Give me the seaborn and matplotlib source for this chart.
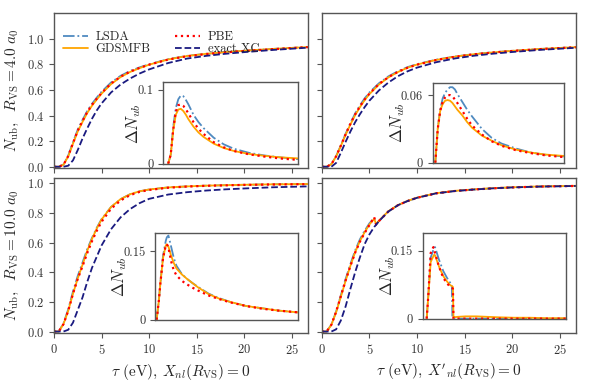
import matplotlib
matplotlib.use("Agg")
from matplotlib import pyplot as plt
import seaborn as sns
import numpy as np
import pandas as pd

# ---- main panels: N_ub vs tau ----
tau = [0, 0.5, 1.0, 1.5, 2.0, 2.5, 3.0, 3.5, 4.0, 4.5, 5.0, 6, 7, 8, 9, 10, 12, 14, 16, 18, 20, 23, 26.7]

# R_VS = 4.0 a0, X_nl = 0
a_lsda = [0, 0, 0.018, 0.088, 0.19, 0.29, 0.365, 0.435, 0.492, 0.54, 0.585, 0.658, 0.71, 0.748, 0.776, 0.8, 0.84, 0.866, 0.882, 0.895, 0.906, 0.92, 0.935]
a_gds = [0, 0, 0.015, 0.08, 0.18, 0.275, 0.35, 0.42, 0.477, 0.525, 0.57, 0.645, 0.70, 0.74, 0.77, 0.797, 0.838, 0.865, 0.882, 0.895, 0.906, 0.92, 0.935]
a_pbe = [0, 0, 0.016, 0.084, 0.185, 0.282, 0.357, 0.427, 0.484, 0.532, 0.576, 0.65, 0.704, 0.743, 0.772, 0.797, 0.837, 0.863, 0.88, 0.893, 0.904, 0.918, 0.934]
a_exact = [0, 0, 0, 0.008, 0.05, 0.13, 0.22, 0.30, 0.375, 0.44, 0.494, 0.58, 0.642, 0.689, 0.728, 0.76, 0.81, 0.845, 0.866, 0.882, 0.895, 0.912, 0.93]

# R_VS = 4.0 a0, X'_nl = 0
b_lsda = [0, 0, 0.021, 0.083, 0.168, 0.258, 0.34, 0.416, 0.479, 0.534, 0.58, 0.652, 0.706, 0.746, 0.778, 0.801, 0.836, 0.861, 0.88, 0.894, 0.905, 0.92, 0.934]
b_gds = [0, 0, 0.02, 0.08, 0.163, 0.25, 0.33, 0.403, 0.465, 0.52, 0.567, 0.642, 0.698, 0.74, 0.773, 0.798, 0.834, 0.86, 0.879, 0.893, 0.905, 0.92, 0.934]
b_pbe = [0, 0, 0.02, 0.082, 0.166, 0.254, 0.335, 0.409, 0.471, 0.526, 0.572, 0.646, 0.70, 0.741, 0.773, 0.797, 0.833, 0.859, 0.878, 0.892, 0.904, 0.919, 0.933]
b_exact = [0, 0, 0, 0.03, 0.11, 0.195, 0.275, 0.348, 0.41, 0.466, 0.516, 0.596, 0.658, 0.707, 0.745, 0.774, 0.816, 0.846, 0.867, 0.883, 0.896, 0.913, 0.929]

# R_VS = 10.0 a0, X_nl = 0
c_lsda = [0, 0, 0.055, 0.15, 0.27, 0.375, 0.465, 0.556, 0.632, 0.70, 0.758, 0.84, 0.893, 0.926, 0.946, 0.958, 0.972, 0.979, 0.984, 0.987, 0.99, 0.993, 0.995]
c_gds = [0, 0, 0.05, 0.14, 0.255, 0.358, 0.45, 0.545, 0.625, 0.695, 0.755, 0.84, 0.893, 0.926, 0.946, 0.958, 0.972, 0.979, 0.984, 0.987, 0.99, 0.993, 0.995]
c_pbe = [0, 0, 0.05, 0.14, 0.255, 0.355, 0.44, 0.53, 0.61, 0.68, 0.74, 0.828, 0.884, 0.92, 0.942, 0.955, 0.97, 0.978, 0.983, 0.986, 0.989, 0.992, 0.994]
c_exact = [0, 0, 0, 0.012, 0.06, 0.145, 0.23, 0.335, 0.43, 0.505, 0.58, 0.69, 0.77, 0.826, 0.866, 0.895, 0.924, 0.94, 0.951, 0.959, 0.965, 0.973, 0.979]

# R_VS = 10.0 a0, X'_nl = 0 (finer grid around the kink)
tau_d = [0, 0.5, 1.0, 1.5, 2.0, 2.5, 3.0, 3.5, 4.0, 4.5, 5.0, 5.5, 5.7, 6, 7, 8, 9, 10, 12, 14, 16, 18, 20, 23, 26.7]
d_lsda = [0, 0, 0.047, 0.135, 0.245, 0.355, 0.455, 0.547, 0.622, 0.68, 0.73, 0.765, 0.72, 0.745, 0.81, 0.852, 0.88, 0.902, 0.932, 0.948, 0.958, 0.966, 0.972, 0.978, 0.982]
d_gds = [0, 0, 0.045, 0.13, 0.235, 0.343, 0.443, 0.535, 0.61, 0.67, 0.722, 0.76, 0.725, 0.748, 0.812, 0.853, 0.881, 0.903, 0.933, 0.949, 0.959, 0.967, 0.973, 0.979, 0.983]
d_pbe = [0, 0, 0.046, 0.134, 0.24, 0.345, 0.442, 0.532, 0.606, 0.665, 0.718, 0.772, 0.722, 0.745, 0.81, 0.852, 0.88, 0.902, 0.932, 0.948, 0.958, 0.966, 0.972, 0.978, 0.982]
d_exact = [0, 0, 0, 0.015, 0.075, 0.17, 0.288, 0.40, 0.50, 0.59, 0.655, 0.705, 0.72, 0.745, 0.81, 0.852, 0.88, 0.902, 0.932, 0.948, 0.958, 0.966, 0.972, 0.978, 0.982]

# ---- insets: Delta N_ub ----
tau_ia = [1.0, 1.5, 2.0, 2.5, 3.0, 3.5, 4.0, 4.5, 5.0, 6, 7, 8, 10, 12, 14, 17, 20, 23, 26.7]
ia_lsda = [0, 0.012, 0.05, 0.075, 0.087, 0.092, 0.091, 0.086, 0.08, 0.066, 0.056, 0.048, 0.035, 0.026, 0.02, 0.0145, 0.011, 0.0085, 0.006]
ia_gds = [0, 0.012, 0.045, 0.066, 0.073, 0.074, 0.071, 0.066, 0.06, 0.05, 0.042, 0.036, 0.027, 0.021, 0.017, 0.013, 0.0105, 0.0085, 0.007]
ia_pbe = [0, 0.012, 0.047, 0.07, 0.079, 0.08, 0.078, 0.073, 0.068, 0.056, 0.047, 0.04, 0.029, 0.022, 0.017, 0.0125, 0.0095, 0.007, 0.005]

tau_ib = [0.5, 1.0, 1.5, 2.0, 2.5, 3.0, 3.5, 4.0, 4.5, 5.0, 6, 7, 8, 10, 12, 14, 17, 20, 23, 26.7]
ib_lsda = [0, 0.03, 0.047, 0.057, 0.062, 0.065, 0.067, 0.067, 0.065, 0.061, 0.054, 0.047, 0.041, 0.03, 0.022, 0.017, 0.0125, 0.009, 0.007, 0.0055]
ib_gds = [0, 0.03, 0.046, 0.052, 0.055, 0.0556, 0.055, 0.053, 0.05, 0.047, 0.042, 0.036, 0.031, 0.024, 0.0195, 0.0155, 0.0115, 0.009, 0.0072, 0.006]
ib_pbe = [0, 0.03, 0.046, 0.054, 0.058, 0.06, 0.06, 0.059, 0.056, 0.053, 0.046, 0.039, 0.033, 0.025, 0.019, 0.015, 0.011, 0.0085, 0.0065, 0.005]

tau_ic = [0.3, 0.7, 1.0, 1.5, 2.0, 2.2, 2.5, 3.0, 3.5, 4.0, 5.0, 6, 7, 8, 10, 12, 14, 17, 20, 23, 26.7]
ic_lsda = [0, 0.04, 0.08, 0.14, 0.172, 0.18, 0.184, 0.16, 0.135, 0.118, 0.10, 0.089, 0.08, 0.072, 0.057, 0.047, 0.039, 0.03, 0.025, 0.02, 0.016]
ic_gds = [0, 0.04, 0.08, 0.135, 0.162, 0.165, 0.16, 0.14, 0.124, 0.112, 0.099, 0.089, 0.08, 0.071, 0.056, 0.046, 0.039, 0.03, 0.025, 0.02, 0.016]
ic_pbe = [0, 0.04, 0.08, 0.135, 0.162, 0.165, 0.158, 0.128, 0.108, 0.097, 0.085, 0.077, 0.07, 0.064, 0.053, 0.045, 0.038, 0.03, 0.024, 0.02, 0.016]

tau_id = [0.7, 1.0, 1.45, 1.95, 2.1, 2.26, 3.0, 3.8, 4.5, 5.1, 5.4, 5.5, 5.6, 5.7, 5.8, 6.5, 8, 10, 12, 14, 17, 20, 23, 26.7]
id_lsda = [0, 0.05, 0.135, 0.152, 0.155, 0.158, 0.13, 0.105, 0.09, 0.079, 0.072, 0.002, 0, 0, 0, 0, 0, 0, 0, 0, 0, 0, 0, 0]
id_gds = [0, 0.05, 0.125, 0.138, 0.141, 0.14, 0.115, 0.094, 0.082, 0.074, 0.072, 0.071, 0.07, 0.005, 0.003, 0.004, 0.005, 0.005, 0.004, 0.003, 0.002, 0.002, 0.001, 0.001]
id_pbe = [0, 0.05, 0.145, 0.158, 0.152, 0.145, 0.115, 0.09, 0.078, 0.07, 0.068, 0.067, 0.066, 0, 0, 0, 0, 0, 0, 0, 0, 0, 0, 0]

names = ["LSDA", "GDSMFB", "PBE", "exact XC"]
colors = ["#4f8ac0", "orange", "red", "#1a1a80"]
styles = ["-.", "-", ":", "--"]
widths = [1.3, 1.3, 1.6, 1.3]

sns.set_style("ticks")
plt.rcParams.update({
    "font.family": "serif",
    "font.serif": ["cmr10"],
    "mathtext.fontset": "cm",
    "axes.formatter.use_mathtext": True,
    "font.size": 9,
    "axes.edgecolor": "#555555",
    "xtick.color": "#555555",
    "ytick.color": "#555555",
    "xtick.labelcolor": "#333333",
    "ytick.labelcolor": "#333333",
    "axes.linewidth": 1.0,
})

fig, axes = plt.subplots(2, 2, figsize=(5.93, 3.85), dpi=100, sharex=True, sharey="row")
plt.subplots_adjust(left=0.091, right=0.971, top=0.966, bottom=0.135, wspace=0.055, hspace=0.065)

panels = [
    (axes[0, 0], tau, [a_lsda, a_gds, a_pbe, a_exact], tau_ia, [ia_lsda, ia_gds, ia_pbe],
     [0.43, 0.024, 0.531, 0.53], (-0.001, 0.11), [0, 0.1], ["0", "0.1"]),
    (axes[0, 1], tau, [b_lsda, b_gds, b_pbe, b_exact], tau_ib, [ib_lsda, ib_gds, ib_pbe],
     [0.437, 0.03, 0.516, 0.52], (-0.0006, 0.0709), [0, 0.06], ["0", "0.06"]),
    (axes[1, 0], tau, [c_lsda, c_gds, c_pbe, c_exact], tau_ic, [ic_lsda, ic_gds, ic_pbe],
     [0.398, 0.083, 0.563, 0.564], (-0.001, 0.19), [0, 0.15], ["0", "0.15"]),
    (axes[1, 1], tau_d, [d_lsda, d_gds, d_pbe, d_exact], tau_id, [id_lsda, id_gds, id_pbe],
     [0.398, 0.09, 0.563, 0.558], (-0.001, 0.19), [0, 0.15], ["0", "0.15"]),
]

for ax, t, series, ti, iseries, ipos, iylim, iticks, ilabels in panels:
    for name, vals, c, ls, lw in zip(names, series, colors, styles, widths):
        sns.lineplot(x=t, y=vals, ax=ax, color=c, linestyle=ls, linewidth=lw, label=name,
                     sort=False, legend=False)
    ax.set_xlim(0, 26.7)
    for sp in ax.spines.values():
        sp.set_visible(True)

    ins = ax.inset_axes(ipos)
    for name, vals, c, ls, lw in zip(names[:3], iseries, colors[:3], styles[:3], widths[:3]):
        sns.lineplot(x=ti, y=vals, ax=ins, color=c, linestyle=ls, linewidth=lw,
                     sort=False, legend=False)
    ins.set_xlim(0, 26.7)
    ins.set_ylim(*iylim)
    ins.set_xticks([])
    ins.set_yticks(iticks)
    ins.set_yticklabels(ilabels)
    ins.set_ylabel(r"$\Delta N_{ub}$", fontsize=12, labelpad=-4)
    for sp in ins.spines.values():
        sp.set_visible(True)

axes[0, 0].set_ylim(-0.01, 1.2)
axes[1, 0].set_ylim(-0.01, 1.035)
axes[0, 0].set_yticks([0, 0.2, 0.4, 0.6, 0.8, 1.0])
axes[1, 0].set_yticks([0, 0.2, 0.4, 0.6, 0.8, 1.0])
axes[1, 0].set_xticks([0, 5, 10, 15, 20, 25])

axes[0, 0].set_ylabel(r"$N_{\rm ub},\ \ R_{\rm VS} = 4.0\ a_0$", fontsize=11)
axes[1, 0].set_ylabel(r"$N_{\rm ub},\ \ R_{\rm VS} = 10.0\ a_0$", fontsize=11)
axes[1, 0].set_xlabel(r"$\tau$ (eV), $X_{nl}(R_{\rm VS}) = 0$", fontsize=11)
axes[1, 1].set_xlabel(r"$\tau$ (eV), $X'_{nl}(R_{\rm VS}) = 0$", fontsize=11)
axes[0, 1].set_ylabel("")
axes[1, 1].set_ylabel("")
axes[0, 0].set_xlabel("")
axes[0, 1].set_xlabel("")

axes[0, 0].legend(loc="upper left", bbox_to_anchor=(0.0, 0.94), ncol=2, frameon=False,
                  fontsize=9, handlelength=2.0, handletextpad=0.6, columnspacing=2.0,
                  labelspacing=0.0, borderaxespad=0.3)

plt.savefig("out.png", dpi=100)
